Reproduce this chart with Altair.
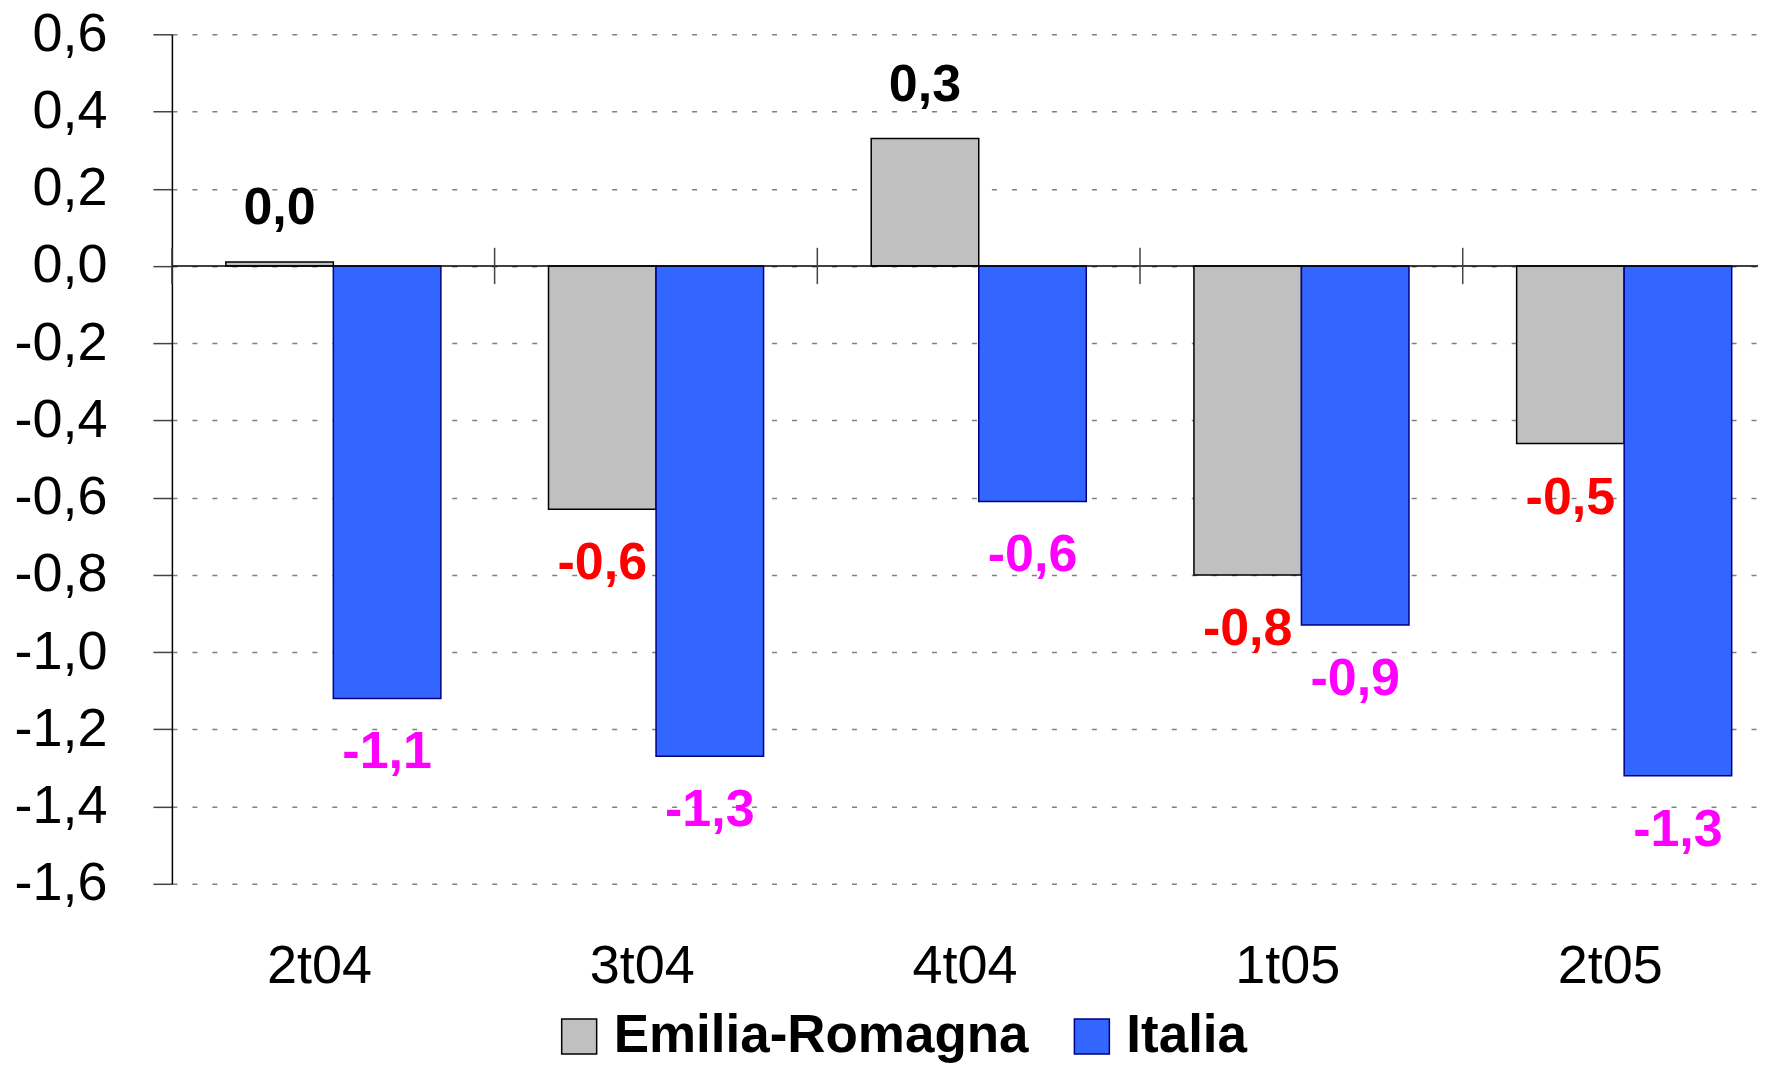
import altair as alt
import pandas as pd

categories = ["2t04", "3t04", "4t04", "1t05", "2t05"]
series_names = ["Emilia-Romagna", "Italia"]
emilia_romagna = [0.01, -0.63, 0.33, -0.80, -0.46]
italia = [-1.12, -1.27, -0.61, -0.93, -1.32]
y_ticks = [0.6, 0.4, 0.2, 0.0, -0.2, -0.4, -0.6, -0.8, -1.0, -1.2, -1.4, -1.6]

rows = []
for i, c in enumerate(categories):
    for s, vals in zip(series_names, [emilia_romagna, italia]):
        v = vals[i]
        rows.append({"category": c, "series": s, "value": v,
                     "label": f"{v:.1f}".replace(".", ",")})
df = pd.DataFrame(rows)

FONT = "Liberation Sans"

# the last category slot runs past the right edge of the picture, as in the original
x_scale = alt.Scale(paddingInner=0.085, paddingOuter=0, align=0)
x_enc = alt.X(
    "category:N", sort=categories, title=None, scale=x_scale,
    axis=alt.Axis(labelFont=FONT, labelFontSize=54, labelColor="black",
                  labelPadding=56, ticks=False, domain=False, labelAngle=0,
                  grid=False, bandPosition=0.5465),
)
xoff = alt.XOffset("series:N", sort=series_names,
                   scale=alt.Scale(paddingInner=0, paddingOuter=0.373, align=0.672))
y_enc = alt.Y(
    "value:Q", title=None,
    scale=alt.Scale(domain=[-1.6, 0.6], nice=False, zero=False),
    axis=alt.Axis(values=y_ticks,
                  labelExpr="replace(replace(format(datum.value, '.1f'), '.', ','), '\u2212', '-')",
                  labelFont=FONT, labelFontSize=54, labelColor="black",
                  labelPadding=46, tickSize=19, tickColor="#444444",
                  tickWidth=1.5, domainColor="black", domainWidth=1.5,
                  grid=True, gridDash=[5, 15], gridColor="#808080",
                  gridWidth=1.5),
)

legend = alt.Legend(
    title=None, orient="none", legendX=381, legendY=976,
    direction="horizontal", symbolType="square", symbolSize=1225,
    labelFont=FONT, labelFontSize=53, labelFontWeight="bold",
    labelColor="black", columnPadding=36, labelOffset=8,
    symbolStrokeWidth=1.5, labelLimit=1000,
)

base = alt.Chart(df)

bars = base.mark_bar(strokeWidth=1.5).encode(
    x=x_enc, xOffset=xoff, y=y_enc,
    fill=alt.Fill("series:N", sort=series_names,
                  scale=alt.Scale(domain=series_names, range=["#C0C0C0", "#3366FF"]),
                  legend=legend),
    stroke=alt.Stroke("series:N", sort=series_names,
                      scale=alt.Scale(domain=series_names, range=["#000000", "#000080"]),
                      legend=legend),
)

zero_line = alt.Chart(pd.DataFrame({"v": [0.0]})).mark_rule(
    color="black", strokeWidth=1.5).encode(y=alt.Y("v:Q"))

seps = base.transform_filter(alt.datum.series == "Italia").mark_rule(
    color="#444444", strokeWidth=1.5).encode(
    x=alt.X("category:N", sort=categories, bandPosition=0),
    y=alt.datum(-0.047), y2=alt.datum(0.047),
)

label_color = alt.Color(
    "kind:N",
    scale=alt.Scale(domain=["pos", "neg", "it"], range=["#000000", "#FF0000", "#FF00FF"]),
    legend=None,
)
text_base = base.transform_calculate(
    kind="datum.series == 'Italia' ? 'it' : (datum.value >= 0 ? 'pos' : 'neg')"
)
text_pos = text_base.transform_filter(alt.datum.value >= 0).mark_text(
    font=FONT, fontSize=52, fontWeight="bold", baseline="middle", dy=-54
).encode(x=alt.X("category:N", sort=categories), xOffset=xoff,
         y=alt.Y("value:Q"), text="label:N", color=label_color)
text_neg = text_base.transform_filter(alt.datum.value < 0).mark_text(
    font=FONT, fontSize=52, fontWeight="bold", baseline="middle", dy=54
).encode(x=alt.X("category:N", sort=categories), xOffset=xoff,
         y=alt.Y("value:Q"), text="label:N", color=label_color)

chart = alt.layer(bars, zero_line, seps, text_pos, text_neg).properties(
    width=1587, height=850,
    padding={"left": 5, "top": -1, "right": 0, "bottom": 0},
).configure_view(stroke=None).resolve_scale(color="independent")

chart.save("out.html", embed_options={"renderer": "svg", "actions": False})
